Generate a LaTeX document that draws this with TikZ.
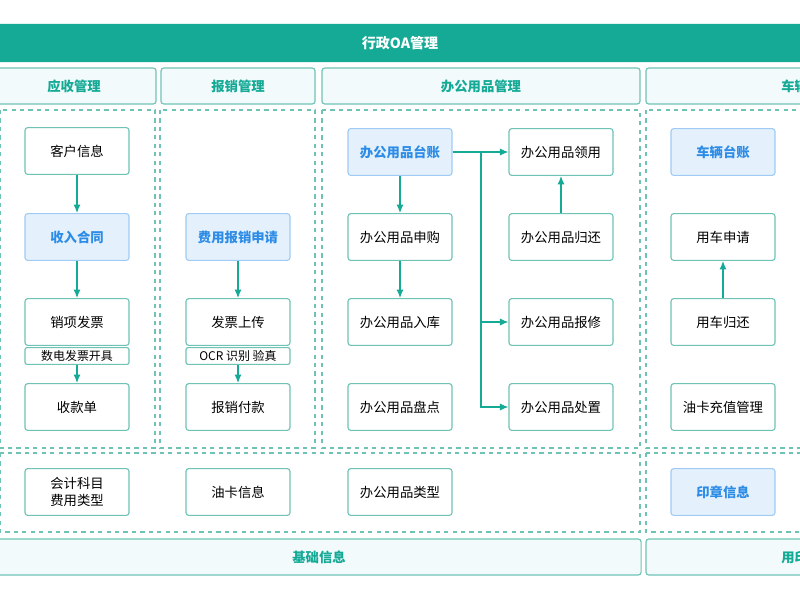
\documentclass[tikz,border=0pt]{standalone}
\usepackage{fontspec}
\newfontfamily\cjk{Noto Sans CJK SC}
\usetikzlibrary{arrows.meta}
\definecolor{teal0}{RGB}{20,170,150}
\definecolor{line0}{RGB}{110,195,180}
\definecolor{blue0}{RGB}{45,140,230}
\definecolor{bluebg}{RGB}{228,241,252}
\definecolor{hdbg}{RGB}{242,250,252}
\tikzset{
  box/.style={draw=line0,line width=0.8pt,rounded corners=2pt,fill=white,minimum width=2.6cm,minimum height=1.17cm,font=\cjk\fontsize{9.5}{12}\selectfont,align=center},
  key/.style={box,fill=bluebg,draw=blue0!45,text=blue0,font=\cjk\bfseries\fontsize{9.5}{12}\selectfont},
  bar/.style={draw=line0,line width=0.8pt,rounded corners=1.5pt,fill=white,minimum width=2.6cm,minimum height=0.42cm,inner sep=0pt,font=\cjk\fontsize{8.5}{10}\selectfont},
  head/.style={draw=line0,line width=0.8pt,rounded corners=2pt,fill=hdbg,minimum height=0.9cm,text=teal0,font=\cjk\bfseries\fontsize{9.5}{12}\selectfont},
  zone/.style={draw=line0,dashed,line width=0.8pt},
  flow/.style={draw=teal0,line width=0.8pt,-{Latex[length=6pt,width=5pt]}}
}
\begin{document}
\begin{tikzpicture}[x=0.025cm,y=-0.025cm]
\useasboundingbox (0,0) rectangle (800,600);
\begin{scope}
\clip (0,0) rectangle (800,600);
% frame
\node[fill=teal0,minimum width=21cm,minimum height=0.95cm,rounded corners=2pt,text=white,font=\cjk\bfseries\fontsize{10}{12}\selectfont] (top) at (400,43) {行政OA管理};
\node[head,minimum width=4.1cm] (h1) at (74,86) {应收管理};
\node[head,minimum width=3.85cm] (h2) at (238,86) {报销管理};
\node[head,minimum width=7.95cm] (h3) at (481,86) {办公用品管理};
\node[head,minimum width=8.1cm] (h4) at (808,86) {车辆管理};
\draw[zone] (0,110) rectangle (155,448);
\draw[zone] (160,110) rectangle (315,448);
\draw[zone] (322,110) rectangle (640,448);
\draw[zone] (646,110) rectangle (805,448);
\draw[zone] (0,453) rectangle (640,532);
\draw[zone] (646,453) rectangle (805,532);
\node[head,minimum width=16.1cm] (f1) at (319,557) {基础信息};
\node[head,minimum width=8.1cm] (f2) at (808,557) {用印管理};
\end{scope}
% 应收管理
\node[box] (kh) at (77,151) {客户信息};
\node[key] (sr) at (77,237) {收入合同};
\node[box] (xx) at (77,322) {销项发票};
\node[bar] (sd) at (77,356) {数电发票开具};
\node[box] (sk) at (77,407) {收款单};
\draw[flow] (kh) -- (sr);
\draw[flow] (sr) -- (xx);
\draw[flow] (sd) -- (sk);
% 报销管理
\node[key] (fy) at (238,237) {费用报销申请};
\node[box] (fp) at (238,322) {发票上传};
\node[bar] (ocr) at (238,356) {OCR 识别 验真};
\node[box] (fk) at (238,407) {报销付款};
\draw[flow] (fy) -- (fp);
\draw[flow] (ocr) -- (fk);
% 办公用品管理
\node[key] (tz) at (400,152) {办公用品台账};
\node[box] (sg) at (400,237) {办公用品申购};
\node[box] (rk) at (400,322) {办公用品入库};
\node[box] (pd) at (400,407) {办公用品盘点};
\node[box] (ly) at (561,152) {办公用品领用};
\node[box] (gh) at (561,237) {办公用品归还};
\node[box] (bx) at (561,322) {办公用品报修};
\node[box] (cz) at (561,407) {办公用品处置};
\coordinate (trunk) at (481,152);
\draw[flow] (tz) -- (sg);
\draw[flow] (sg) -- (rk);
\draw[flow] (tz) -- (ly);
\draw[flow] (gh) -- (ly);
\draw[flow] (trunk) |- (bx);
\draw[flow] (trunk) |- (cz);
% 车辆管理
\node[key] (cl) at (723,152) {车辆台账};
\node[box] (sq) at (723,237) {用车申请};
\node[box] (ghc) at (723,322) {用车归还};
\node[box] (yk) at (723,407) {油卡充值管理};
\draw[flow] (ghc) -- (sq);
% 基础信息
\node[box] (km) at (77,492) {会计科目\\费用类型};
\node[box] (yx) at (238,492) {油卡信息};
\node[box] (lx) at (400,492) {办公用品类型};
\node[key] (yz) at (723,492) {印章信息};
\end{tikzpicture}
\end{document}
